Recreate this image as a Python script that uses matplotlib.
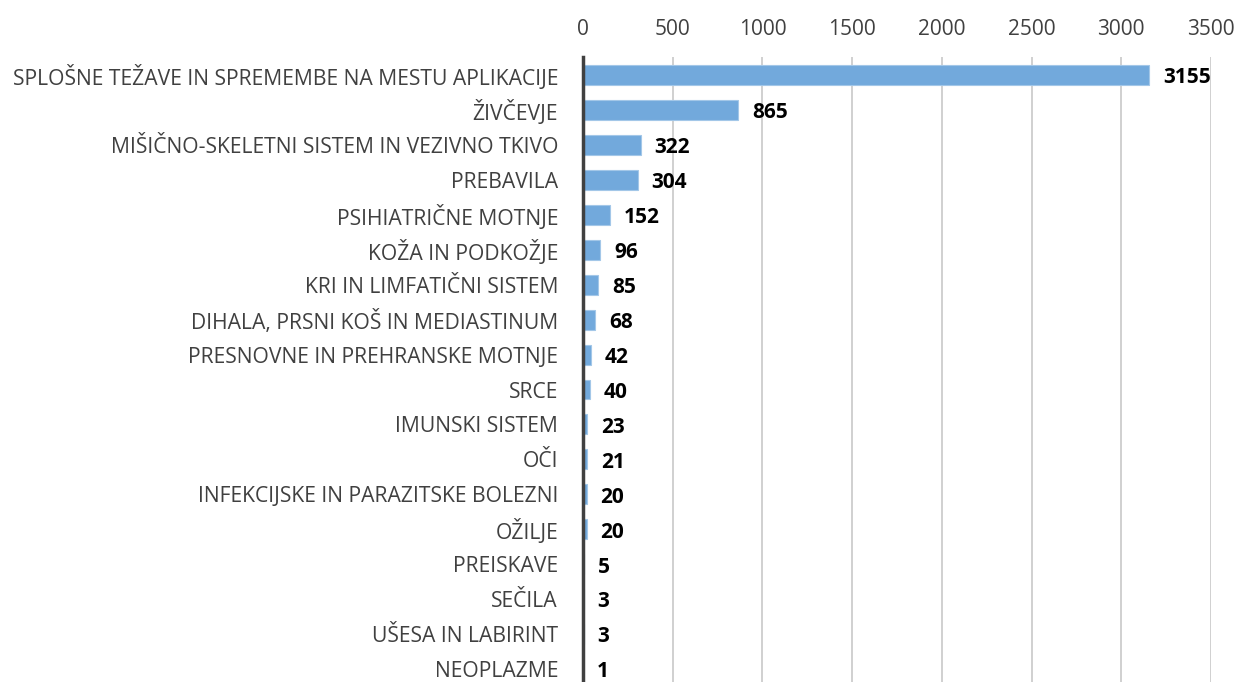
import matplotlib.pyplot as plt

plt.rcParams["font.family"] = ["Open Sans", "DejaVu Sans"]

categories = [
    "SPLOŠNE TEŽAVE IN SPREMEMBE NA MESTU APLIKACIJE",
    "ŽIVČEVJE",
    "MIŠIČNO-SKELETNI SISTEM IN VEZIVNO TKIVO",
    "PREBAVILA",
    "PSIHIATRIČNE MOTNJE",
    "KOŽA IN PODKOŽJE",
    "KRI IN LIMFATIČNI SISTEM",
    "DIHALA, PRSNI KOŠ IN MEDIASTINUM",
    "PRESNOVNE IN PREHRANSKE MOTNJE",
    "SRCE",
    "IMUNSKI SISTEM",
    "OČI",
    "INFEKCIJSKE IN PARAZITSKE BOLEZNI",
    "OŽILJE",
    "PREISKAVE",
    "SEČILA",
    "UŠESA IN LABIRINT",
    "NEOPLAZME",
]
values = [3155, 865, 322, 304, 152, 96, 85, 68, 42, 40, 23, 21, 20, 20, 5, 3, 3, 1]
xticks = [0, 500, 1000, 1500, 2000, 2500, 3000, 3500]

fig = plt.figure(figsize=(12.36, 6.82), dpi=100)
ax = fig.add_axes([0.4717, 0.0, 0.508, 0.9164])

pos = list(range(len(categories)))
ax.barh(pos, values, height=0.57, color="#72A9DC", edgecolor="#A3C7E8", linewidth=0.8, zorder=3)

for y, v in zip(pos, values):
    ax.annotate(str(v), (v, y), xytext=(10, -2), textcoords="offset points",
                ha="left", va="center", fontsize=15, fontweight="bold", color="black")

ax.set_xlim(0, 3500)
ax.set_ylim(17.37, -0.515)
ax.set_yticks(pos)
ax.set_yticklabels(categories, fontsize=15.2, color="#404040")
ax.set_xticks(xticks)
ax.xaxis.tick_top()
ax.tick_params(axis="x", length=0, pad=12, labelsize=15, labelcolor="#404040")
ax.tick_params(axis="y", length=0, pad=18)
ax.xaxis.grid(True, color="#C8C8C8", linewidth=1.2, zorder=0)
ax.set_axisbelow(True)

for s in ["top", "right", "bottom"]:
    ax.spines[s].set_visible(False)
ax.spines["left"].set_color("#404040")
ax.spines["left"].set_linewidth(2.5)
ax.spines["left"].set_zorder(4)

fig.savefig("out.png", dpi=100)
